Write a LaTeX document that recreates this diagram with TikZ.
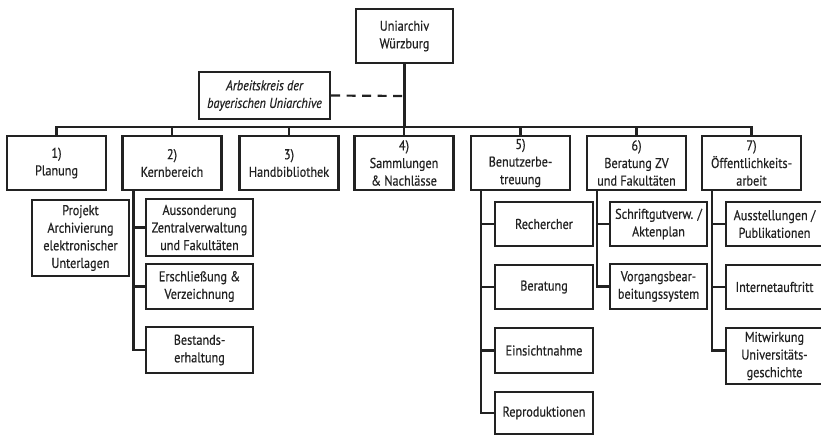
\documentclass[tikz,border=0pt]{standalone}
\usepackage{fontspec}
\setmainfont{PT Sans}[FakeStretch=0.86, FakeBold=0.5]
\usetikzlibrary{calc}
\definecolor{ink}{HTML}{222222}
\tikzset{
  box/.style={draw=ink, line width=2.2pt, fill=white, inner sep=0pt, align=center,
    text=ink, font=\fontsize{14.2}{17.6}\selectfont},
  link/.style={draw=ink, line width=2.2pt},
}
\begin{document}
\begin{tikzpicture}[x=1pt,y=-1pt]
\clip (0,0) rectangle (821,437);
\fill[white] (0,0) rectangle (821,437);
% root and side
\node[box, minimum width=97, minimum height=54] (root) at (404.5,36) {Uniarchiv\\Würzburg};
\node[box, minimum width=131, minimum height=47, font=\fontsize{14.2}{17.6}\selectfont\itshape] (ak) at (264.5,95.5) {Arbeitskreis der\\bayerischen Uniarchive};
% level 1
\foreach \n/\x/\t in {p1/56.5/{1)\\Planung}, p2/172/{2)\\Kernbereich}, p3/289/{3)\\Handbibliothek},
  p4/404/{4)\\Sammlungen\\\& Nachlässe}, p5/520.5/{5)\\Benutzerbe-\\treuung},
  p6/636.5/{6)\\Beratung ZV\\und Fakultäten}, p7/751.5/{7)\\Öffentlichkeits-\\arbeit}}
  \node[box, minimum width=99, minimum height=54] (\n) at (\x,163) {\t};
% bus
\coordinate (bus) at (404.5,127);
\coordinate (dash) at (404.5,96);
\draw[link] (root.south) -- (bus);
\draw[link] (p1.north) |- (p7.north |- bus) -- (p7.north);
\foreach \n in {p2,p3,p4,p5,p6} \draw[link] (\n.north) -- (\n.north |- bus);
\draw[link, dash pattern=on 9pt off 6.5pt] (ak.east) -- (dash);
% Planung project (unconnected)
\node[box, minimum width=97, minimum height=76] (pr) at (80.5,238) {Projekt\\Archivierung\\elektronischer\\Unterlagen};
% Kernbereich children
\node[box, minimum width=107, minimum height=57] (a1) at (199.5,227.5) {Aussonderung\\Zentralverwaltung\\und Fakultäten};
\node[box, minimum width=107, minimum height=45] (a2) at (199.5,286.5) {Erschließung \&\\Verzeichnung};
\node[box, minimum width=107, minimum height=46] (a3) at (199.5,350) {Bestands-\\erhaltung};
\coordinate (kv) at ([xshift=12pt]p2.south west);
\draw[link] (kv) |- (a3.west);
\draw[link] (kv |- a1.west) -- (a1.west);
\draw[link] (kv |- a2.west) -- (a2.west);
% Benutzerbetreuung children
\node[box, minimum width=98, minimum height=44] (b1) at (544,224) {Rechercher};
\node[box, minimum width=98, minimum height=44] (b2) at (544,287) {Beratung};
\node[box, minimum width=98, minimum height=45] (b3) at (544,350.5) {Einsichtnahme};
\node[box, minimum width=98, minimum height=42] (b4) at (544,413) {Reproduktionen};
\coordinate (bv) at ([xshift=11pt]p5.south west);
\draw[link] (bv) |- (b4.west);
\foreach \n in {b1,b2,b3} \draw[link] (bv |- \n.west) -- (\n.west);
% Beratung ZV children
\node[box, minimum width=97, minimum height=44] (c1) at (658.5,224) {Schriftgutverw. /\\Aktenplan};
\node[box, minimum width=97, minimum height=45] (c2) at (658.5,286.5) {Vorgangsbear-\\beitungssystem};
\coordinate (cv) at ([xshift=11pt]p6.south west);
\draw[link] (cv) |- (c2.west);
\draw[link] (cv |- c1.west) -- (c1.west);
% Oeffentlichkeitsarbeit children
\node[box, minimum width=97, minimum height=44] (d1) at (774.5,224) {Ausstellungen /\\Publikationen};
\node[box, minimum width=97, minimum height=44] (d2) at (774.5,287) {Internetauftritt};
\node[box, minimum width=97, minimum height=56] (d3) at (774.5,356) {Mitwirkung\\Universitäts-\\geschichte};
\coordinate (dv) at ([xshift=11pt]p7.south west);
\draw[link] (dv) |- (d3.west |- b3.west) -- (d3.west |- b3.west);
\foreach \n in {d1,d2} \draw[link] (dv |- \n.west) -- (\n.west);
\end{tikzpicture}
\end{document}
